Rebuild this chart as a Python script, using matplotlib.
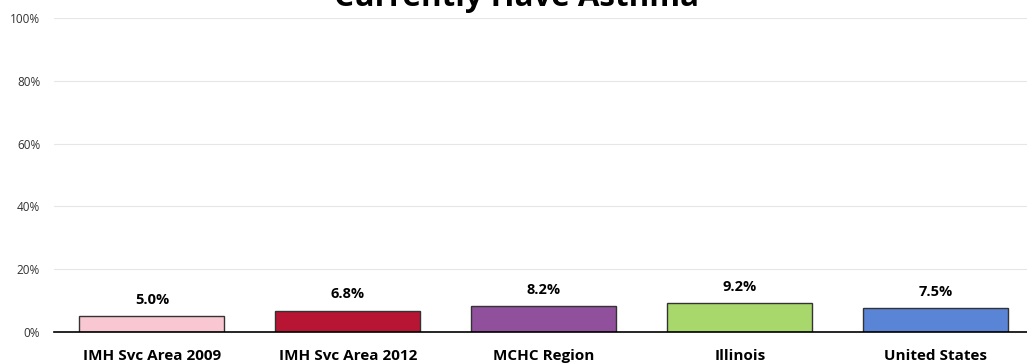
import matplotlib.pyplot as plt
import numpy as np

categories = ['IMH Svc Area 2009', 'IMH Svc Area 2012', 'MCHC Region', 'Illinois', 'United States']
values = [5.0, 6.8, 8.2, 9.2, 7.5]
colors = ['#F8C7D1', '#B81434', '#91509B', '#A8D86B', '#5A84D6']
yticks = [0, 20, 40, 60, 80, 100]

plt.rcParams['font.family'] = ['Open Sans', 'DejaVu Sans']

fig = plt.figure(figsize=(10.27, 3.64), dpi=100)
ax = fig.add_axes([0.0526, 0.0879, 0.954, 0.8626])

x = np.arange(len(categories))
bars = ax.bar(x, values, width=0.74, color=colors, edgecolor='#333333', linewidth=1, zorder=3)

for xi, v in zip(x, values):
    ax.text(xi, v + 3.0, f'{v:.1f}%', ha='center', va='bottom', fontsize=10.5, fontweight='bold')

ax.set_xlim(-0.5, len(categories) - 0.5)
ax.set_ylim(0, 100)
ax.set_yticks(yticks)
ax.set_yticklabels([f'{t}%' for t in yticks], fontsize=8.5, color='#333333')
ax.set_xticks(x)
ax.set_xticklabels(categories, fontsize=11, fontweight='bold')
ax.tick_params(axis='x', length=0, pad=12)
ax.tick_params(axis='y', length=0, pad=10)
ax.grid(axis='y', color='#E6E6E6', linewidth=0.8, zorder=0)
for s in ['top', 'right', 'left']:
    ax.spines[s].set_visible(False)
ax.spines['bottom'].set_color('black')
ax.spines['bottom'].set_linewidth(1.2)
ax.spines['bottom'].set_zorder(4)

# title sits partly above the canvas, as in the source image
fig.text(0.503, 1 - 6 / 364, 'Currently Have Asthma', ha='center', va='baseline',
         fontsize=22.5, fontweight='bold')

fig.savefig('out.png', dpi=100)
